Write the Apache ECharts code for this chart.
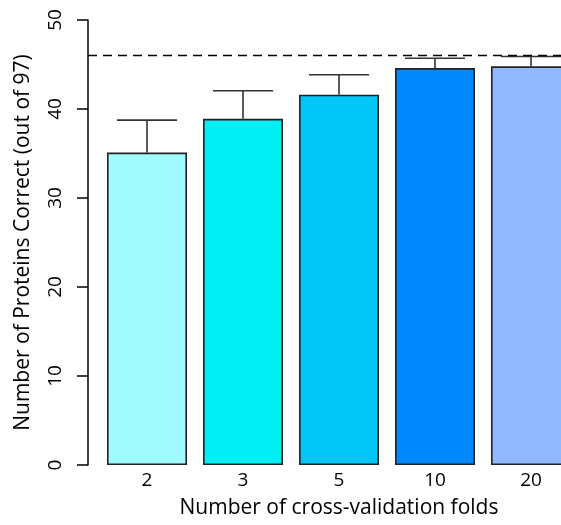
<!DOCTYPE html>
<html>
<head>
<meta charset="utf-8">
<style>
  html, body { margin: 0; padding: 0; background: #ffffff; }
  #chart { width: 561px; height: 525px; }
</style>
<script src="https://cdn.jsdelivr.net/npm/echarts@6/dist/echarts.min.js"></script>
</head>
<body>
<div id="chart"></div>
<script>
// Cross-validation results: mean proteins correct and the spread above it
const folds = ['2', '3', '5', '10', '20'];
const meanCorrect = [35.1, 38.9, 41.6, 44.6, 44.8];
const errorUp = [3.65, 3.15, 2.25, 1.1, 1.1];
const barColors = ['#9ffbff', '#00eff5', '#00c6f8', '#0088ff', '#92b9ff'];
const referenceLevel = 46;
const yTicks = [0, 10, 20, 30, 40, 50];

const FONT = '"Open Sans", sans-serif';
const AXIS_OFFSET = 11;

const chart = echarts.init(document.getElementById('chart'), null, { renderer: 'canvas' });

const option = {
  backgroundColor: '#ffffff',
  animation: false,
  grid: {
    left: 99, top: 20, width: 480, height: 445,
    containLabel: false,
    outerBoundsMode: 'none'
  },
  xAxis: {
    type: 'category',
    data: folds,
    axisLine: { show: false },
    axisTick: { show: false },
    axisLabel: { color: '#000', fontFamily: FONT, fontSize: 19, margin: 6 },
    name: 'Number of cross-validation folds',
    nameLocation: 'middle',
    nameGap: 33,
    nameTextStyle: { color: '#000', fontFamily: FONT, fontSize: 21 }
  },
  yAxis: {
    type: 'value',
    min: yTicks[0],
    max: yTicks[yTicks.length - 1],
    interval: 10,
    offset: AXIS_OFFSET,
    axisLine: { show: true, lineStyle: { color: '#000', width: 1.5 } },
    axisTick: { show: true, length: 11, lineStyle: { color: '#000', width: 1.5 } },
    axisLabel: { color: '#000', fontFamily: FONT, fontSize: 19, rotate: 90, margin: 23 },
    splitLine: { show: false },
    name: 'Number of Proteins Correct (out of 97)',
    nameLocation: 'middle',
    nameRotate: 90,
    nameGap: 54,
    nameTextStyle: { color: '#000', fontFamily: FONT, fontSize: 21 }
  },
  series: [
    {
      type: 'bar',
      barWidth: 80,
      data: meanCorrect.map((v, i) => ({
        value: v,
        itemStyle: { color: barColors[i] }
      })),
      itemStyle: { borderColor: '#222', borderWidth: 1.6 },
      z: 2
    },
    {
      // upper error whiskers with caps
      type: 'custom',
      data: meanCorrect.map((v, i) => [i, v, v + errorUp[i]]),
      renderItem: function (params, api) {
        const base = api.coord([api.value(0), api.value(1)]);
        const top = api.coord([api.value(0), api.value(2)]);
        const capHalf = api.size([1, 0])[0] * 0.3125;
        const style = { stroke: '#333', lineWidth: 1.6 };
        return {
          type: 'group',
          children: [
            { type: 'line', shape: { x1: base[0], y1: base[1], x2: top[0], y2: top[1] }, style: style },
            { type: 'line', shape: { x1: top[0] - capHalf, y1: top[1], x2: top[0] + capHalf, y2: top[1] }, style: style }
          ]
        };
      },
      z: 3
    },
    {
      // horizontal dashed reference line across the whole plot region
      type: 'custom',
      data: [[0, referenceLevel]],
      clip: false,
      renderItem: function (params, api) {
        const p = api.coord([0, api.value(1)]);
        const cs = params.coordSys;
        return {
          type: 'line',
          shape: { x1: cs.x - AXIS_OFFSET, y1: p[1], x2: cs.x + cs.width + 20, y2: p[1] },
          style: { stroke: '#000', lineWidth: 1.5, lineDash: [9, 6] }
        };
      },
      z: 4
    }
  ]
};

chart.setOption(option);
</script>
</body>
</html>
